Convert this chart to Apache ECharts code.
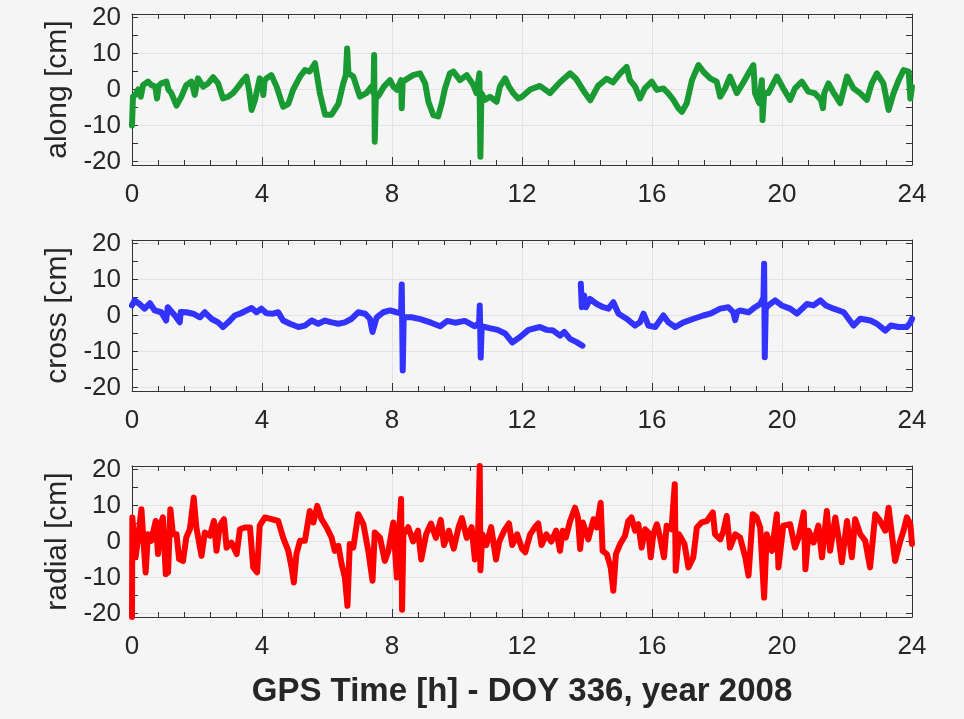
<!DOCTYPE html>
<html>
<head>
<meta charset="utf-8">
<script src="https://cdn.jsdelivr.net/npm/echarts@6/dist/echarts.min.js"></script>
<style>
html,body{margin:0;padding:0;background:#f5f5f5;}
#c{width:964px;height:719px;}
</style>
</head>
<body>
<div id="c"></div>
<script>
// ---------- data (hours, cm) ----------
const alongTime = [0,0.03,0.1,0.19,0.27,0.34,0.49,0.6,0.72,0.77,0.82,0.9,1.06,1.12,1.21,1.37,1.52,1.67,1.83,1.93,2.03,2.19,2.34,2.5,2.65,2.8,2.96,3.11,3.27,3.42,3.52,3.6,3.68,3.78,3.93,4.0,4.04,4.08,4.14,4.29,4.45,4.65,4.81,4.96,5.17,5.32,5.47,5.63,5.78,5.94,6.14,6.35,6.5,6.58,6.62,6.66,6.81,7.01,7.21,7.37,7.43,7.45,7.47,7.5,7.6,7.75,7.94,8.04,8.15,8.28,8.3,8.33,8.65,8.86,9.02,9.12,9.27,9.42,9.53,9.63,9.78,9.89,10.09,10.3,10.5,10.6,10.69,10.72,10.75,10.86,11.01,11.22,11.32,11.48,11.6,11.73,11.88,12.0,12.25,12.55,12.86,13.17,13.48,13.66,13.94,14.1,14.34,14.6,14.8,15.02,15.22,15.32,15.48,15.63,15.78,15.99,16.15,16.35,16.5,16.66,16.81,16.92,17.07,17.23,17.43,17.58,17.79,17.99,18.1,18.25,18.4,18.61,18.76,18.97,19.12,19.17,19.3,19.38,19.4,19.45,19.58,19.84,20.04,20.25,20.4,20.61,20.81,21.02,21.2,21.26,21.3,21.43,21.6,21.79,22.0,22.2,22.41,22.61,22.76,22.92,23.12,23.28,23.43,23.59,23.74,23.9,23.95,24];
const alongCm = [-10,-2,-1.5,0,-2,1.2,2.2,1.2,0.8,-2.5,1,1.7,2.2,0,-1,-4.5,-2,1.2,2.2,-1.5,3.1,0.8,1.7,3.4,1.7,-2.5,-2,-1,0.8,2.6,3.6,0,-5.7,-3,3.1,2,-1.5,2.5,3.1,4,0.8,-4.8,-4,0,3.6,5.4,5,7.3,-1,-7,-7,-4,1.7,4,11.4,4.5,3.6,-2,-1,0.8,-1,9.6,-14.5,-2.5,-1.5,0.8,2.6,0.8,-0.1,2.6,-5.2,2.2,4,4.5,1.7,-3.4,-7.1,-7.5,-3.9,0.3,4.5,5,2.6,4,1.3,-1,4.5,-18.7,-1,-2.9,-2,-3.4,0.8,3.1,0.8,-1,-2.5,-2,0,1,-1,2,4.5,3,-1,-3,1,3,2,4.5,6.3,2.6,0.8,-2.5,0.3,2.2,-0.1,0.3,-1.1,-2.9,-5.2,-6.2,-3.8,2.6,6.8,5,3.1,2.2,-2,0.3,3.6,-1,1.2,4.5,6.8,-1,-3.8,2.6,-8.5,-1,-1,3.6,0.3,-2.9,0.3,2.2,-0.6,-1.1,-2.9,-5.2,-1,1.7,-1.1,-3.8,3.6,0.3,-1.1,-2.9,1.7,4.5,1.7,-5.7,-1.1,2.6,5.4,5,-2.5,0.8];

const crossTimeA = [0,0.08,0.23,0.39,0.55,0.7,0.9,1.05,1.1,1.32,1.47,1.5,1.67,1.88,2.09,2.24,2.44,2.65,2.8,2.96,3.16,3.32,3.52,3.68,3.83,3.98,4.14,4.34,4.5,4.65,4.86,5.12,5.32,5.53,5.73,5.94,6.14,6.35,6.55,6.76,6.96,7.17,7.32,7.4,7.53,7.73,7.94,8.14,8.28,8.3,8.33,8.36,8.6,8.87,9.2,9.48,9.7,9.94,10.24,10.55,10.68,10.7,10.73,10.76,11.0,11.25,11.48,11.7,11.94,12.2,12.55,12.76,12.96,13.17,13.3,13.48,13.68,13.86];
const crossCmA = [2.8,4.2,3.2,1.9,3.4,1.4,0.9,-1.4,2.3,0,-1.9,1,0.9,0.5,-0.5,0.9,-0.9,-1.9,-3.2,-1.9,0,0.5,1.4,2.1,0.9,1.9,0.6,0.5,0.9,-1.4,-2.3,-3.2,-2.8,-1.4,-2.3,-1.4,-1.9,-2.3,-1.9,-0.9,0.9,0.5,-0.9,-4.6,-0.5,0.9,1.4,0.9,0.5,8.6,-15.3,-0.5,-0.5,-1,-2,-3,-1.5,-2,-1.5,-3,-2,2.8,-11.7,-3,-3.5,-4,-5,-7.5,-6,-4,-3.2,-4,-4.2,-5.6,-4.6,-6.5,-7.4,-8.4];
const crossTimeB = [13.81,13.84,13.91,13.97,14.09,14.3,14.5,14.66,14.81,14.97,15.22,15.48,15.63,15.74,15.89,16.1,16.35,16.5,16.71,16.97,17.28,17.58,17.79,18.1,18.35,18.5,18.56,18.62,18.71,18.97,19.17,19.33,19.43,19.45,19.47,19.5,19.58,19.79,19.99,20.25,20.46,20.77,20.97,21.18,21.35,21.59,21.9,22.2,22.41,22.72,22.92,23.18,23.35,23.59,23.84,23.95,24];
const crossCmB = [8.8,2.3,5.6,2.3,4.6,3.2,2.3,1.9,3.7,0.5,-0.9,-2.8,-1.9,0.5,-2.8,-3.2,0,-1.9,-3.2,-1.9,-0.9,0,0.5,1.9,2.3,0.9,-1.3,1,1.4,0.9,2.3,3.2,5,14.4,-11.6,2,2.8,4.2,2.8,1.9,0.5,3.2,2.8,4.2,2.8,1.9,0.9,-2.8,-0.9,-1.4,-2.3,-4.2,-2.8,-3.2,-3.2,-2,-0.9];

const radialTime = [0,0.01,0.04,0.11,0.19,0.29,0.36,0.42,0.49,0.59,0.73,0.8,0.9,0.95,1.04,1.11,1.18,1.26,1.37,1.45,1.57,1.67,1.78,1.9,1.98,2.14,2.24,2.4,2.52,2.6,2.7,2.83,2.91,3.06,3.22,3.32,3.47,3.63,3.73,3.85,3.93,4.09,4.29,4.5,4.65,4.81,4.91,4.98,5.06,5.17,5.32,5.47,5.58,5.7,5.83,5.99,6.14,6.24,6.35,6.45,6.55,6.63,6.7,6.81,6.96,7.12,7.27,7.4,7.47,7.63,7.78,7.89,8.04,8.15,8.22,8.28,8.31,8.35,8.5,8.65,8.8,8.9,9.05,9.2,9.35,9.5,9.6,9.75,9.9,10.05,10.15,10.3,10.45,10.55,10.65,10.7,10.72,10.78,10.9,11.05,11.2,11.3,11.45,11.6,11.7,11.85,12.0,12.1,12.25,12.4,12.5,12.6,12.75,12.9,13.05,13.17,13.25,13.35,13.48,13.63,13.72,13.79,13.87,14.04,14.2,14.3,14.42,14.48,14.61,14.73,14.81,14.89,15.02,15.17,15.27,15.37,15.48,15.58,15.68,15.79,15.89,15.96,16.04,16.15,16.25,16.37,16.45,16.6,16.7,16.73,16.83,17.0,17.12,17.27,17.38,17.53,17.69,17.87,17.94,18.1,18.2,18.3,18.4,18.56,18.71,18.87,18.97,19.1,19.22,19.33,19.45,19.53,19.69,19.84,19.89,20.04,20.25,20.4,20.51,20.67,20.72,20.82,20.97,21.12,21.23,21.38,21.48,21.64,21.74,21.84,22.0,22.15,22.25,22.41,22.56,22.71,22.87,23.02,23.18,23.28,23.38,23.48,23.64,23.74,23.84,23.95,24];
const radialCm = [-21,6.7,6.7,-4.4,1.1,9,-0.7,-8.6,2,0.2,5.7,-3.5,5.3,6.7,-9.1,-8.6,9,2,2,-4.9,-5.4,1.1,3.4,12.2,3.9,-4,2.5,1.6,5.7,-2.6,4.4,6.2,-1.7,-0.3,-3.5,3.4,3.9,3.9,-7.2,-8.6,4.4,6.7,6.2,5.7,1.1,-2.6,-7.2,-11.4,-3.5,0.2,0.2,8.5,5.3,9.9,6.2,3.9,1.1,-2.6,-1.2,-6.3,-10,-17.9,-0.7,-1.7,7.6,4.8,-2.6,-10.9,2.5,1.1,-5.4,-2.6,5.3,-10,3,11.8,-19,2,4,0,3,-5,2,5,1,6,-1,3,-2,4,6.5,1,4,-5,3,21,-8,2,-1,4,-5,0,3,5,-1,2,-2,-3,2,4,5,-1,2,0,3,-2.6,3,1.1,5.7,9.4,6.7,-2.1,5.3,0.6,6.2,3.9,10.8,-2.6,-3.5,-7.2,-13.7,-3.5,-0.7,1.6,5.7,6.7,3,4.8,-1.7,3.4,2.5,-4.4,2,4.8,1.1,-4.4,4.4,3.4,15.9,-8.1,2,-0.7,-7.2,-4.4,3.9,5.3,5.7,8.1,2,0.6,3,7.1,-1.7,2,1.1,-4.4,-9.5,7.6,6.7,3.9,-15.6,2,-2.6,7.6,-7.2,4.4,4.8,-1.7,1.1,8.1,-7.7,3,-0.3,4.4,-4.4,8.5,-2.6,6.7,1.1,-5.8,5.7,-4.4,6.2,2,0.2,-7.2,7.6,5.7,3,9.4,2,-5.4,0.2,3,6.7,4.8,-0.7];

const panelNames = ['along [cm]', 'cross [cm]', 'radial [cm]'];
const xTitle = 'GPS Time [h] - DOY 336, year 2008';
const xTicks = {min: 0, max: 24, step: 4};
const yLabelValues = [-20, -10, 0, 10, 20];

// ---------- layout ----------
const FONT = '"Liberation Sans", Arial, Helvetica, sans-serif';
const TXT = '#262626';
const BOX = '#333333';
const GRIDC = '#e3e3e3';
const tops = [14, 240, 466];
const colors = ['#1a9a32', '#3333ff', '#ff0000'];

const pair = (ts, vs) => ts.map((t, i) => [t, vs[i]]);
const seriesData = [
  [pair(alongTime, alongCm)],
  [pair(crossTimeA, crossCmA), pair(crossTimeB, crossCmB)],
  [pair(radialTime, radialCm)]
];

const grid = [], xAxis = [], yAxis = [], series = [];
tops.forEach((top, i) => {
  grid.push({left: 132, width: 780, top: top, height: 151, containLabel: false});
  xAxis.push({
    type: 'value', gridIndex: i, position: 'bottom', min: xTicks.min, max: xTicks.max, interval: xTicks.step,
    axisLine: {show: true, onZero: false, lineStyle: {color: BOX, width: 1}},
    axisTick: {show: true, inside: true, length: 8, lineStyle: {color: BOX}},
    minorTick: {show: true, splitNumber: 5, length: 5, lineStyle: {color: BOX}},
    axisLabel: {show: true, fontSize: 26, color: TXT, fontFamily: FONT, margin: 17},
    splitLine: {show: true, lineStyle: {color: GRIDC, width: 1}},
    name: i === 2 ? xTitle : '', nameLocation: 'middle', nameGap: 58,
    nameTextStyle: {fontSize: 33, fontWeight: 'bold', color: TXT, fontFamily: FONT}
  });
  xAxis.push({
    type: 'value', gridIndex: i, position: 'top', min: xTicks.min, max: xTicks.max, interval: xTicks.step,
    axisLine: {show: true, onZero: false, lineStyle: {color: BOX, width: 1}},
    axisTick: {show: true, inside: true, length: 8, lineStyle: {color: BOX}},
    minorTick: {show: true, splitNumber: 5, length: 5, lineStyle: {color: BOX}},
    axisLabel: {show: false}, splitLine: {show: false}
  });
  yAxis.push({
    type: 'value', gridIndex: i, position: 'left', min: -21, max: 21, splitNumber: 4,
    axisLine: {show: false}, axisTick: {show: false}, axisLabel: {show: false},
    splitLine: {show: true, lineStyle: {color: GRIDC, width: 1}}
  });
  yAxis.push({
    type: 'value', gridIndex: i, position: 'left', min: -21, max: 21, splitNumber: 8,
    axisLine: {show: true, onZero: false, lineStyle: {color: BOX, width: 1}},
    axisTick: {show: true, inside: true, length: 6, lineStyle: {color: BOX}},
    axisLabel: {
      show: true, fontSize: 26, color: TXT, fontFamily: FONT, margin: 11,
      showMinLabel: false, showMaxLabel: false,
      formatter: v => (yLabelValues.indexOf(v) >= 0 ? String(v) : '')
    },
    splitLine: {show: false},
    name: panelNames[i], nameLocation: 'middle', nameGap: 57, nameRotate: 90,
    nameTextStyle: {fontSize: 30, color: TXT, fontFamily: FONT}
  });
  yAxis.push({
    type: 'value', gridIndex: i, position: 'right', min: -21, max: 21, splitNumber: 8,
    axisLine: {show: true, onZero: false, lineStyle: {color: BOX, width: 1}},
    axisTick: {show: true, inside: true, length: 6, lineStyle: {color: BOX}},
    axisLabel: {show: false}, splitLine: {show: false}
  });
  seriesData[i].forEach(d => {
    series.push({
      type: 'line', xAxisIndex: i * 2, yAxisIndex: i * 3 + 1, data: d,
      showSymbol: false, symbol: 'none', clip: true, animation: false,
      lineStyle: {color: colors[i], width: 6, join: 'round', cap: 'round'},
      itemStyle: {color: colors[i]}
    });
  });
});

const chart = echarts.init(document.getElementById('c'), null, {renderer: 'canvas'});
chart.setOption({
  backgroundColor: '#f5f5f5',
  animation: false,
  grid, xAxis, yAxis, series
});
</script>
</body>
</html>
